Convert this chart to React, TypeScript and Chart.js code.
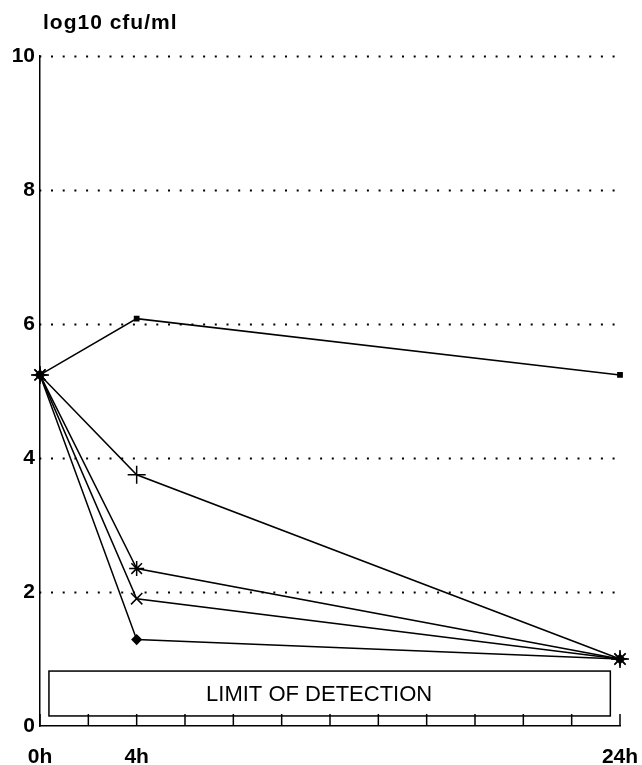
import { useEffect, useRef } from "react";
import { Chart, registerables } from "chart.js";

Chart.register(...registerables);

const hours = [0, 4, 24];
const squareSeries = [5.24, 6.08, 5.24];
const plusSeries = [5.24, 3.75, 1.0];
const starSeries = [5.24, 2.35, 1.0];
const crossSeries = [5.24, 1.9, 1.0];
const diamondSeries = [5.24, 1.29, 1.0];

const xLabelHours = [0, 4, 24];
const xTickHours = [0, 2, 4, 6, 8, 10, 12, 14, 16, 18, 20, 22, 24];
const yTicks = [0, 2, 4, 6, 8, 10];
const yTitle = "log10 cfu/ml";
const limitLabel = "LIMIT OF DETECTION";
const limitFromHour = 0.37;
const limitToHour = 23.6;
const limitLow = 0.15;
const limitHigh = 0.82;
const limitTextHour = 11.55;

const FONT = '"Liberation Sans", Arial, Helvetica, sans-serif';

const decorPlugin = {
  id: "decor",
  beforeDatasetsDraw(chart: any) {
    const { ctx, chartArea, scales } = chart;
    const xs = scales.x;
    const ys = scales.y;
    ctx.save();
    ctx.strokeStyle = "#000";
    ctx.lineWidth = 2;
    ctx.setLineDash([2, 9.7]);
    ctx.lineDashOffset = -11;
    yTicks.forEach((v) => {
      if (v === 0) return;
      const y = Math.round(ys.getPixelForValue(v)) + 0.5;
      ctx.beginPath();
      ctx.moveTo(chartArea.left, y);
      ctx.lineTo(chartArea.right, y);
      ctx.stroke();
    });
    ctx.setLineDash([]);
    ctx.lineWidth = 1.5;
    xTickHours.forEach((h) => {
      const x = xs.getPixelForValue(h);
      ctx.beginPath();
      ctx.moveTo(x, chartArea.bottom);
      ctx.lineTo(x, chartArea.bottom - 12);
      ctx.stroke();
    });
    const x0 = xs.getPixelForValue(limitFromHour);
    const x1 = xs.getPixelForValue(limitToHour);
    const y0 = ys.getPixelForValue(limitHigh);
    const y1 = ys.getPixelForValue(limitLow);
    ctx.lineWidth = 1.5;
    ctx.strokeRect(x0, y0, x1 - x0, y1 - y0);
    ctx.fillStyle = "#000";
    ctx.font = `22px ${FONT}`;
    ctx.textAlign = "center";
    ctx.textBaseline = "middle";
    ctx.fillText(limitLabel, xs.getPixelForValue(limitTextHour), (y0 + y1) / 2 + 1);
    ctx.font = `bold 21px ${FONT}`;
    ctx.textAlign = "left";
    ctx.textBaseline = "alphabetic";
    (ctx as any).letterSpacing = "1px";
    ctx.fillText(yTitle, 43, 29);
    ctx.restore();
  },
};

export default function App() {
  const ref = useRef<HTMLCanvasElement | null>(null);
  useEffect(() => {
    document.body.style.margin = "0";
    const mk = (vals: number[]) => vals.map((v, i) => ({ x: hours[i], y: v }));
    const base = {
      borderColor: "#000",
      borderWidth: 1.5,
      pointBorderColor: "#000",
      pointBorderWidth: 1.5,
      fill: false,
      tension: 0,
      clip: false as any,
    };
    const chart = new Chart(ref.current as HTMLCanvasElement, {
      type: "line",
      data: {
        datasets: [
          { ...base, label: "a", data: mk(squareSeries), pointStyle: "rect", pointRadius: 3, pointBackgroundColor: "#000" },
          { ...base, label: "b", data: mk(plusSeries), pointStyle: "cross", pointRadius: 9, pointBackgroundColor: "#000" },
          { ...base, label: "c", data: mk(starSeries), pointStyle: "star", pointRadius: 7.5, pointBackgroundColor: "#000" },
          { ...base, label: "d", data: mk(crossSeries), pointStyle: "crossRot", pointRadius: 8, pointBackgroundColor: "#000" },
          { ...base, label: "e", data: mk(diamondSeries), pointStyle: "rectRot", pointRadius: 4.5, pointBackgroundColor: "#000" },
        ] as any,
      },
      options: {
        animation: false,
        responsive: false,
        events: [],
        layout: { padding: { top: 56, right: 22, left: 0, bottom: 0 } },
        plugins: { legend: { display: false }, tooltip: { enabled: false }, title: { display: false } },
        scales: {
          x: {
            type: "linear",
            min: 0,
            max: 24,
            afterFit: (s: any) => { s.height = 39; s.paddingLeft = 0; s.paddingRight = 0; },
            afterBuildTicks: (s: any) => { s.ticks = xTickHours.map((v) => ({ value: v })); },
            grid: { display: false, drawTicks: false },
            border: { display: true, color: "#000", width: 1.5 },
            ticks: {
              autoSkip: false,
              maxRotation: 0,
              padding: 19,
              color: "#000",
              font: { family: FONT, size: 21, weight: "bold" },
              callback: (v: any) => (xLabelHours.includes(Number(v)) ? `${v}h` : ""),
            },
          },
          y: {
            min: 0,
            max: 10,
            afterFit: (s: any) => { s.width = 40; s.paddingTop = 0; s.paddingBottom = 0; },
            afterBuildTicks: (s: any) => { s.ticks = yTicks.map((v) => ({ value: v })); },
            grid: { display: false, drawTicks: false },
            border: { display: true, color: "#000", width: 1.5 },
            ticks: {
              padding: 5,
              color: "#000",
              font: { family: FONT, size: 21, weight: "bold" },
            },
          },
        } as any,
      },
      plugins: [decorPlugin],
    });
    return () => chart.destroy();
  }, []);
  return (
    <div style={{ width: 642, height: 765, background: "#fff" }}>
      <canvas ref={ref} width={642} height={765} />
    </div>
  );
}
